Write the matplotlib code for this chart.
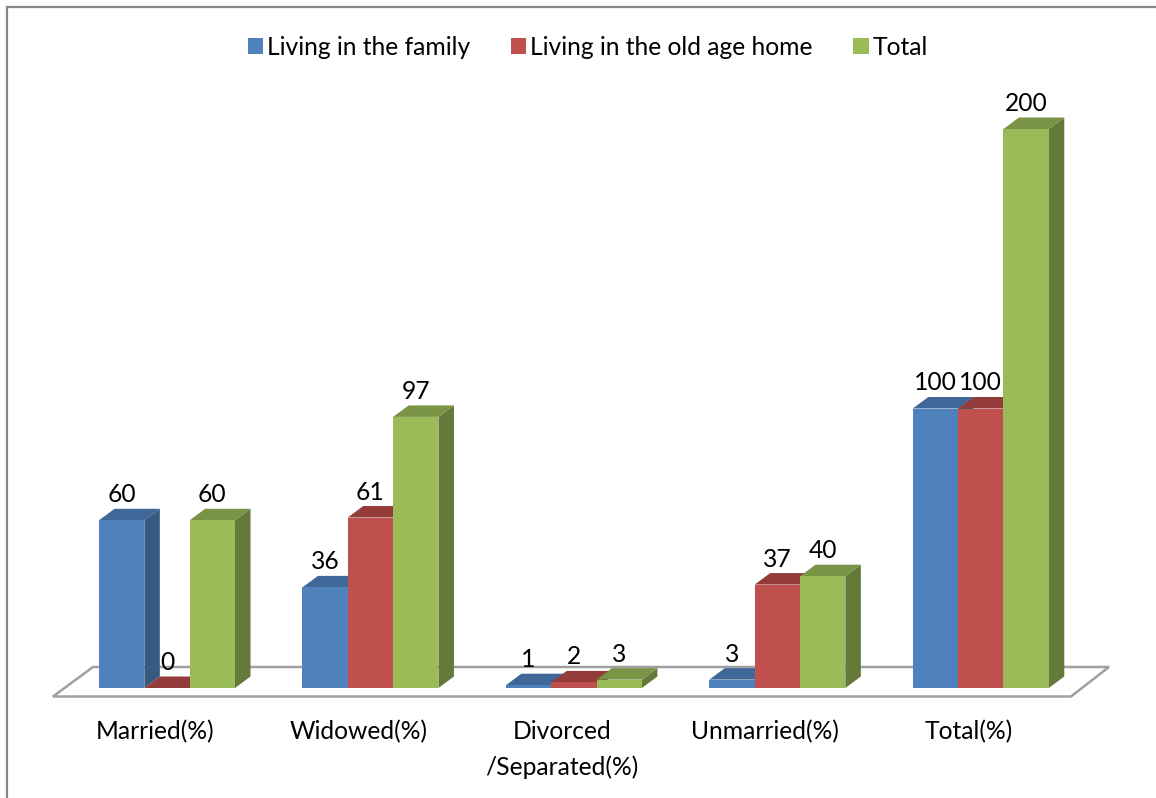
import matplotlib
matplotlib.use("Agg")
import matplotlib.pyplot as plt
from matplotlib.lines import Line2D
from matplotlib.patches import Patch

categories = ["Married(%)", "Widowed(%)", "Divorced\n/Separated(%)", "Unmarried(%)", "Total(%)"]
series_names = ["Living in the family", "Living in the old age home", "Total"]
family = [60, 36, 1, 3, 100]
old_age_home = [0, 61, 2, 37, 100]
total = [60, 97, 3, 40, 200]

front_colors = ["#4F81BD", "#C0504D", "#9BBB59"]
top_colors = ["#3F6797", "#933C3A", "#7A9446"]
side_colors = ["#375A82", "#7F3331", "#657A3A"]

W, H = 1156, 798
PX_PER_CAT = 203.45
PX_PER_VAL = 2.795
X0_PX = 167.0
Y0_PX = 688.0
FLOOR_BOTTOM_PX = 696.5

plt.rcParams["font.family"] = ["Lato", "DejaVu Sans"]
FONT = 17.7

fig = plt.figure(figsize=(W / 100, H / 100), dpi=100, facecolor="white")
ax = fig.add_axes([0, (H - FLOOR_BOTTOM_PX) / H, 1, FLOOR_BOTTOM_PX / H])
ax.set_xlim(-X0_PX / PX_PER_CAT, (W - X0_PX) / PX_PER_CAT)
ax.set_ylim((Y0_PX - FLOOR_BOTTOM_PX) / PX_PER_VAL, Y0_PX / PX_PER_VAL)
for s in ax.spines.values():
    s.set_visible(False)
ax.set_yticks([])
ax.patch.set_alpha(0)


def xd(px):
    return (px - X0_PX) / PX_PER_CAT


def yd(px):
    return (Y0_PX - px) / PX_PER_VAL


# floor of the 3d chart
floor_x = [xd(53), xd(93), xd(1109), xd(1071)]
floor_y = [yd(696.5), yd(667), yd(667), yd(696.5)]
ax.fill(floor_x, floor_y, facecolor="white", edgecolor="#A0A0A0", linewidth=1.8,
        joinstyle="miter", clip_on=False, zorder=1)

bar_w = 45.33 / PX_PER_CAT
dx = 15.5 / PX_PER_CAT
dy = 11.5 / PX_PER_VAL

z = 2
for i in range(len(categories)):
    for j, vals in enumerate([family, old_age_home, total]):
        v = vals[i]
        left = i + (j - 1.5) * bar_w
        right = left + bar_w
        ax.fill([right, right + dx, right + dx, right], [0, dy, v + dy, v],
                color=side_colors[j], linewidth=0, zorder=z)
        ax.fill([left, left + dx, right + dx, right], [v, v + dy, v + dy, v],
                color=top_colors[j], linewidth=0, zorder=z)
        ax.bar(left, v, width=bar_w, align="edge", color=front_colors[j], linewidth=0, zorder=z)
        ax.annotate(str(v), (left + bar_w / 2, v), xytext=(0, 25.5 * 0.72), textcoords="offset points",
                    ha="center", va="center", fontsize=FONT, color="black", zorder=100)
        z += 1

ax.set_xticks([i - 12 / PX_PER_CAT for i in range(len(categories))])
ax.set_xticklabels(categories, fontsize=FONT, linespacing=1.62)
ax.tick_params(axis="x", length=0, pad=17)

handles = [Patch(facecolor=c, edgecolor="none") for c in front_colors]
fig.legend(handles, series_names, loc="center", bbox_to_anchor=(588 / W, 1 - 47.5 / H),
           ncol=3, frameon=False, fontsize=FONT, handlelength=0.62, handleheight=0.62,
           handletextpad=0.17, columnspacing=1.65, borderpad=0, borderaxespad=0)

# outer chart frame, runs off the right and bottom of the image
fig.add_artist(Line2D([6.5 / W, 6.5 / W, 1], [0, 1 - 6.5 / H, 1 - 6.5 / H],
                      color="#868686", linewidth=1.6, solid_joinstyle="miter"))

fig.savefig("out.png", dpi=100)
